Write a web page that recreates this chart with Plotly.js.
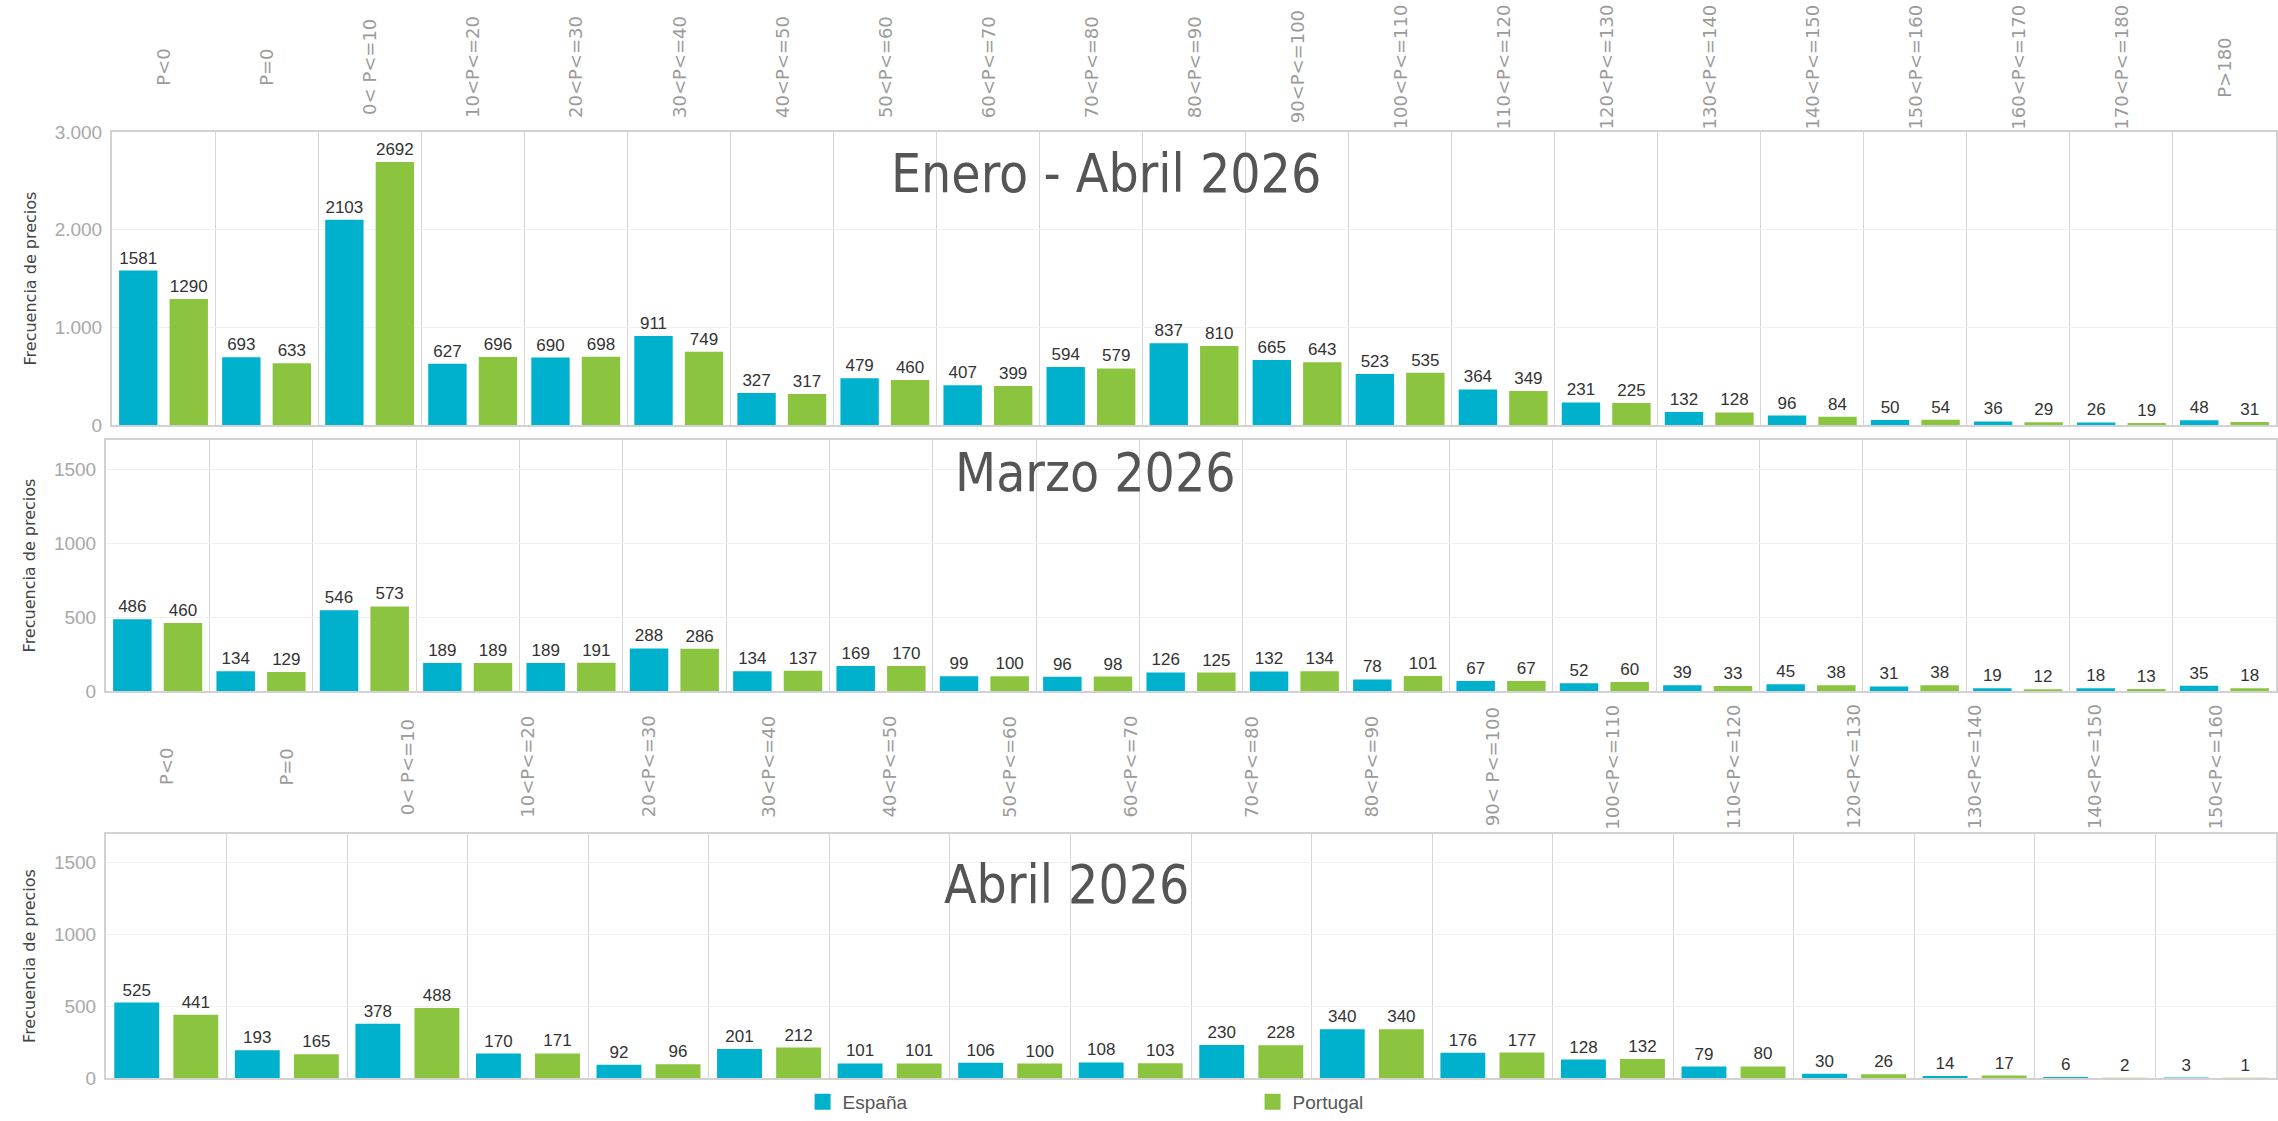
<!DOCTYPE html>
<html>
<head>
<meta charset="utf-8">
<script src="https://cdn.plot.ly/plotly-3.0.1.min.js"></script>
<style>
  html, body { margin: 0; padding: 0; background: #fff; }
  #plot { width: 2278px; height: 1121px; }
</style>
</head>
<body>
<div id="plot"></div>
<script>
// tramos de precio (EUR/MWh)
const tramos = ['P<0', 'P=0', '0< P<=10', '10<P<=20', '20<P<=30', '30<P<=40', '40<P<=50',
  '50<P<=60', '60<P<=70', '70<P<=80', '80<P<=90', '90<P<=100', '100<P<=110', '110<P<=120',
  '120<P<=130', '130<P<=140', '140<P<=150', '150<P<=160', '160<P<=170', '170<P<=180', 'P>180'];
const tramosAbril = ['P<0', 'P=0', '0< P<=10', '10<P<=20', '20<P<=30', '30<P<=40', '40<P<=50',
  '50<P<=60', '60<P<=70', '70<P<=80', '80<P<=90', '90< P<=100', '100<P<=110', '110<P<=120',
  '120<P<=130', '130<P<=140', '140<P<=150', '150<P<=160'];

// Enero - Abril 2026
const eneAbrEsp = [1581, 693, 2103, 627, 690, 911, 327, 479, 407, 594, 837, 665, 523, 364, 231, 132, 96, 50, 36, 26, 48];
const eneAbrPor = [1290, 633, 2692, 696, 698, 749, 317, 460, 399, 579, 810, 643, 535, 349, 225, 128, 84, 54, 29, 19, 31];
// Marzo 2026
const marEsp = [486, 134, 546, 189, 189, 288, 134, 169, 99, 96, 126, 132, 78, 67, 52, 39, 45, 31, 19, 18, 35];
const marPor = [460, 129, 573, 189, 191, 286, 137, 170, 100, 98, 125, 134, 101, 67, 60, 33, 38, 38, 12, 13, 18];
// Abril 2026
const abrEsp = [525, 193, 378, 170, 92, 201, 101, 106, 108, 230, 340, 176, 128, 79, 30, 14, 6, 3];
const abrPor = [441, 165, 488, 171, 96, 212, 101, 100, 103, 228, 340, 177, 132, 80, 26, 17, 2, 1];

const azul = '#00b1cd';
const verde = '#8bc43f';

function barras(cats, vals, nombre, color, ax) {
  return {
    type: 'bar',
    x: cats,
    y: vals,
    name: nombre,
    legendgroup: nombre,
    showlegend: false,
    marker: { color: color },
    text: vals.map(v => String(v)),
    textposition: 'outside',
    constraintext: 'none',
    cliponaxis: false,
    textfont: { family: 'Liberation Sans, Arial, sans-serif', size: 17, color: '#333' },
    xaxis: 'x' + ax,
    yaxis: 'y' + ax,
    hoverinfo: 'x+y+name'
  };
}

// entradas de leyenda (cuadrados grandes como en el original)
function leyenda(nombre, color) {
  return {
    type: 'scatter', mode: 'markers', x: [null], y: [null], name: nombre,
    legendgroup: nombre, showlegend: true,
    marker: { symbol: 'square', size: 20, color: color }
  };
}

const data = [
  barras(tramos, eneAbrEsp, 'España', azul, ''),
  barras(tramos, eneAbrPor, 'Portugal', verde, ''),
  barras(tramos, marEsp, 'España', azul, '2'),
  barras(tramos, marPor, 'Portugal', verde, '2'),
  barras(tramosAbril, abrEsp, 'España', azul, '3'),
  barras(tramosAbril, abrPor, 'Portugal', verde, '3'),
  leyenda('España', azul),
  leyenda('Portugal', verde)
];

const borde = '#d2d2d2';
function ejeX(dom, anchor) {
  return {
    domain: dom, anchor: anchor, type: 'category',
    tickson: 'boundaries', showgrid: true, gridcolor: '#d6d6d6', gridwidth: 1,
    showline: true, mirror: true, linecolor: borde, linewidth: 2,
    showticklabels: false, ticks: '', fixedrange: true
  };
}
function ejeY(dom, anchor, maxY, paso, sep) {
  return {
    domain: dom, anchor: anchor, range: [0, maxY], dtick: paso,
    separatethousands: sep,
    showgrid: true, gridcolor: '#f1f1f1', zeroline: false,
    showline: true, mirror: true, linecolor: borde, linewidth: 2,
    ticks: '', ticklabelstandoff: 4,
    tickfont: { family: 'Liberation Sans, Arial, sans-serif', size: 19, color: '#a8a8a8' },
    title: { text: 'Frecuencia de precios', standoff: 14,
             font: { family: 'DejaVu Sans, sans-serif', size: 16, color: '#444' } }
  };
}

const layout = {
  width: 2278, height: 1121,
  margin: { l: 106, r: 2, t: 0, b: 0 },
  paper_bgcolor: '#fff', plot_bgcolor: '#fff',
  separators: ',.',
  barmode: 'group',
  bargap: 0.02,
  bargroupgap: 0.24,
  xaxis: ejeX([6 / 2170, 1], 'y'),
  yaxis: ejeY([0.6209, 0.8822], 'x', 3000, 1000, true),
  xaxis2: ejeX([0, 1], 'y2'),
  yaxis2: ejeY([0.3836, 0.6075], 'x2', 1700, 500, false),
  xaxis3: ejeX([0, 1], 'y3'),
  yaxis3: ejeY([0.0384, 0.2560], 'x3', 1700, 500, false),
  showlegend: true,
  legend: {
    orientation: 'h', x: 0.321, xanchor: 'left', y: 0, yanchor: 'bottom',
    entrywidth: 405, entrywidthmode: 'pixels', itemsizing: 'trace',
    font: { family: 'Liberation Sans, Arial, sans-serif', size: 19, color: '#555' }
  },
  annotations: []
};

// etiquetas de tramos arriba de los paneles
const fuenteTramo = { family: 'DejaVu Sans, sans-serif', size: 18, color: '#9b9b9b' };
tramos.forEach(t => layout.annotations.push({
  x: t, xref: 'x', y: 0.940, yref: 'paper', yanchor: 'middle', text: t, textangle: -90,
  showarrow: false, font: fuenteTramo
}));
tramosAbril.forEach(t => layout.annotations.push({
  x: t, xref: 'x3', y: 0.316, yref: 'paper', yanchor: 'middle', text: t, textangle: -90,
  showarrow: false, font: fuenteTramo
}));

// titulos de cada panel
const fuenteTitulo = { family: 'Liberation Sans Narrow, DejaVu Sans Condensed, sans-serif', size: 53, color: '#555' };
[['Enero - Abril 2026', 0.4608, 0.8448],
 ['Marzo 2026', 0.4562, 0.5789],
 ['Abril 2026', 0.4424, 0.2114]].forEach(([txt, x, y]) => layout.annotations.push({
  text: txt, x: x, y: y, xref: 'paper', yref: 'paper', xanchor: 'center', yanchor: 'middle',
  showarrow: false, font: fuenteTitulo
}));

Plotly.newPlot('plot', data, layout, { displayModeBar: false, staticPlot: true });
</script>
</body>
</html>
